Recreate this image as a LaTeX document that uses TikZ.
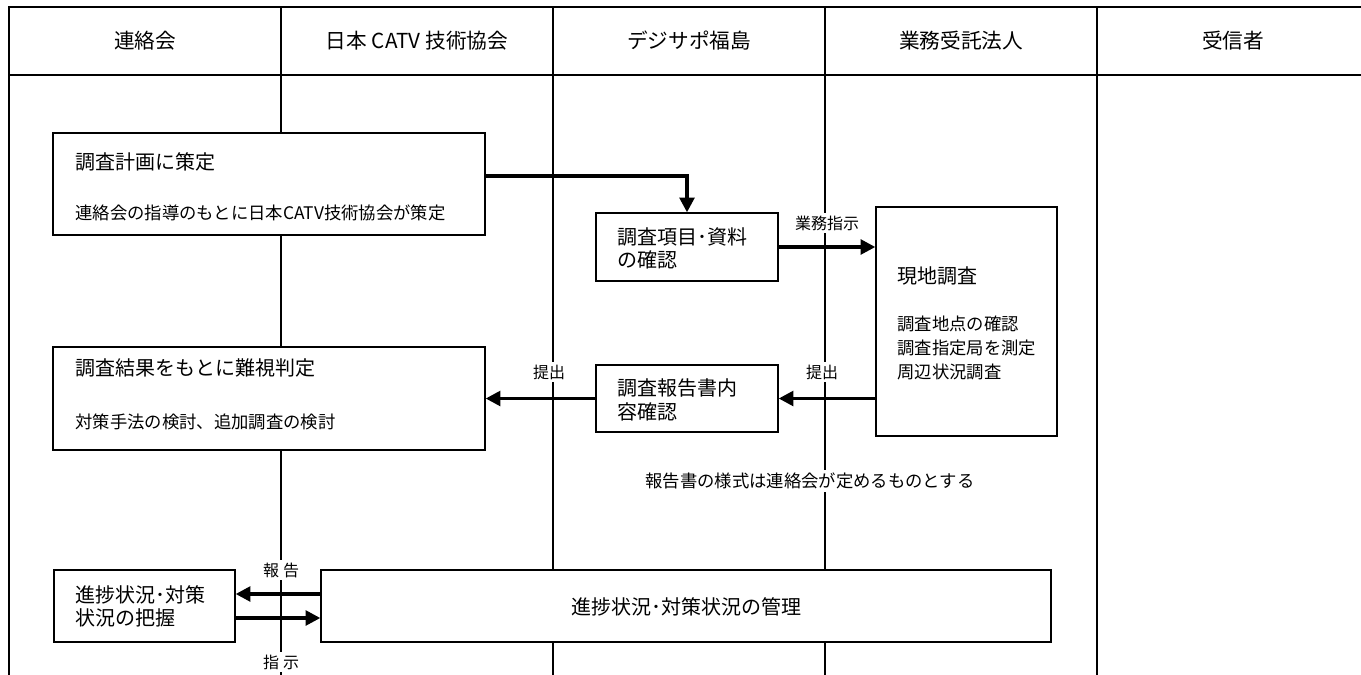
\documentclass[tikz,border=0pt]{standalone}
\usepackage{fontspec}
\setmainfont{Noto Sans CJK JP}
\usetikzlibrary{arrows.meta,calc}
\tikzset{every picture/.style={line width=0.75pt}}
\tikzset{
  lane/.style={line width=1.8pt},
  box/.style 2 args={draw, line width=1pt, fill=white, inner sep=0pt,
    minimum width=#1*0.75pt, minimum height=#2*0.75pt},
  flow/.style={line width=2.5pt, -{Triangle[length=11pt,width=11pt]}},
  head/.style={font=\fontsize{15.5}{18}\selectfont},
  big/.style={font=\fontsize{15}{17.5}\selectfont, anchor=west, inner sep=0pt, align=left},
  small/.style={font=\fontsize{13}{18}\selectfont, anchor=west, inner sep=0pt, align=left},
  lbl/.style={font=\fontsize{12}{14}\selectfont, fill=white, inner sep=2pt},
}

\begin{document}
\begin{tikzpicture}[x=0.75pt,y=0.75pt,yscale=-1,xscale=1]
\useasboundingbox (0,0) rectangle (1361,675);
\clip (0,0) rectangle (1361,675);

%Table: frame and lanes
\draw[lane] (1369,7) -- (9,7) -- (9,675);
\draw[lane] (9,75) -- (1369,75);
\foreach \x in {281,553,825,1097}
  \draw[lane] (\x,7) -- (\x,675);

%Text: lane heads
\node[head] (hRenraku) at (145,41) {連絡会};
\node[head] (hCatv) at (417,41) {日本 CATV 技術協会};
\node[head] (hDigi) at (689,41) {デジサポ福島};
\node[head] (hGyomu) at (961,41) {業務受託法人};
\node[head] (hJushin) at (1233,41) {受信者};

%Shape: Rectangle boxes
\node[box={432}{102}] (plan) at (269,184) {};
\node[box={182}{68}] (check) at (687,247) {};
\node[box={181}{229}] (survey) at (966.5,321.5) {};
\node[box={182}{67}] (report) at (687,398.5) {};
\node[box={432}{103}] (judge) at (269,398.5) {};
\node[box={181}{72}] (grasp) at (144.5,606) {};
\node[box={730}{72}] (manage) at (686,606) {};

%Text: inside boxes
\node[big] (tPlan) at (75,162) {調査計画に策定};
\node[small] (sPlan) at (75,213) {連絡会の指導のもとに日本CATV技術協会が策定};
\node[big] (tCheck) at (617,248.5) {調査項目･資料\\の確認};
\node[big] (tSurvey) at (897,276) {現地調査};
\node[small] (sSurvey) at (897,348) {調査地点の確認\\調査指定局を測定\\周辺状況調査};
\node[big] (tReport) at (617,400) {調査報告書内\\容確認};
\node[big] (tJudge) at (75,368) {調査結果をもとに難視判定};
\node[small] (sJudge) at (75,422) {対策手法の検討、追加調査の検討};
\node[big] (tGrasp) at (75,606.5) {進捗状況･対策\\状況の把握};
\node[big, anchor=center] (tManage) at (686,607) {進捗状況･対策状況の管理};

%Straight Lines: flows
\draw[flow] ($(plan.east)+(0,-8)$) -| (check.north);
\draw[flow] (check.east) -- (check.east -| survey.west);
\draw[flow] (survey.west |- report.east) -- (report.east);
\draw[flow] (report.west) -- (judge.east);
\draw[flow] ($(manage.west)+(0,-12)$) -- ($(grasp.east)+(0,-12)$);
\draw[flow] ($(grasp.east)+(0,12)$) -- ($(manage.west)+(0,12)$);

%Text: flow labels
\node[lbl] (lShiji) at (827,223) {業務指示};
\node[lbl] (lTeishutsuR) at (822,372) {提出};
\node[lbl] (lTeishutsuL) at (549,372) {提出};
\node[lbl] (lHokoku) at (281,570) {報\hspace{3pt}告};
\node[lbl] (lShiji2) at (281,662) {指\hspace{3pt}示};
\node[lbl, font=\fontsize{13}{16}\selectfont] (note) at (810,481) {報告書の様式は連絡会が定めるものとする};

\end{tikzpicture}
\end{document}
